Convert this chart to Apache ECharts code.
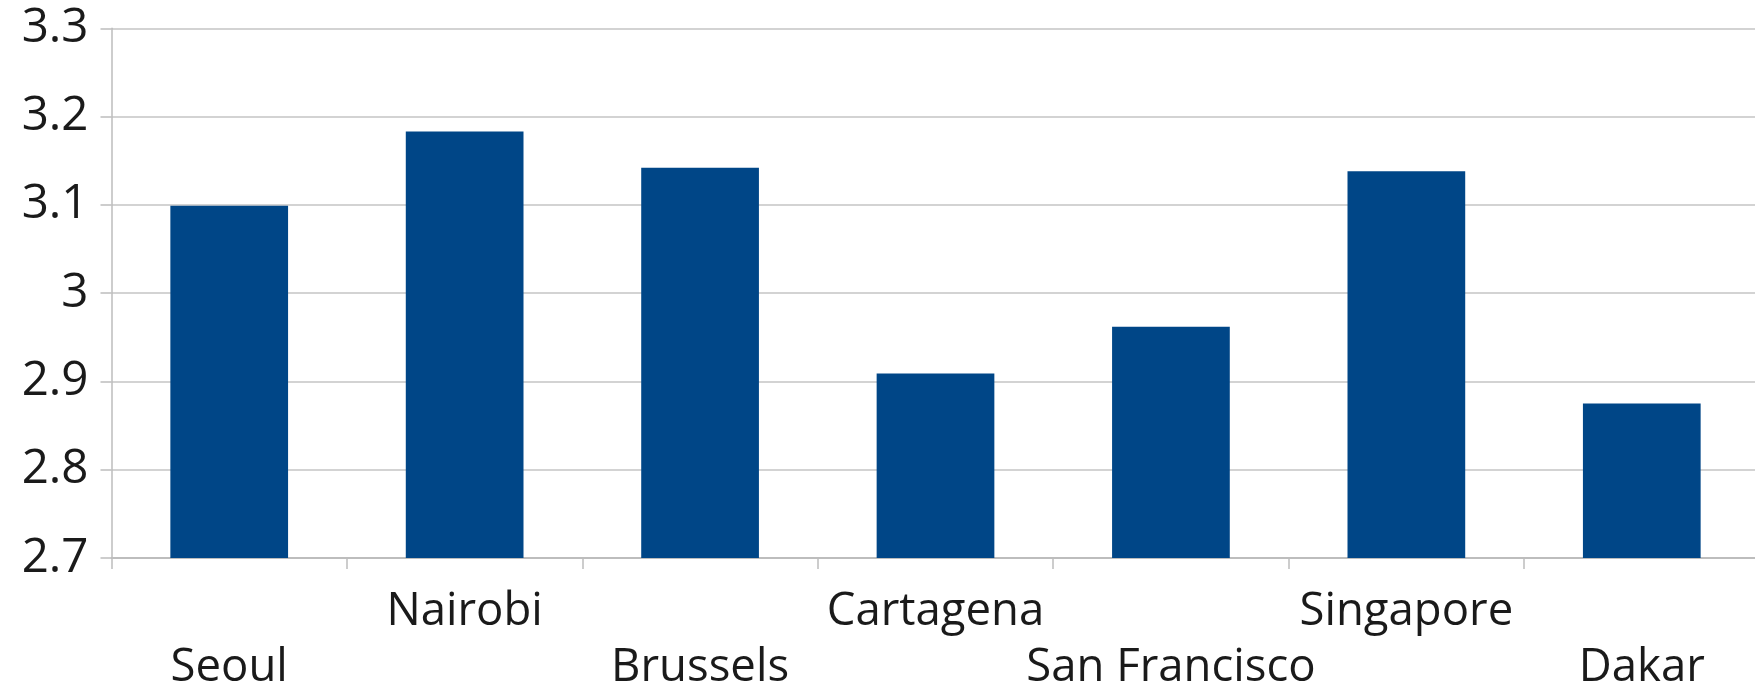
<!DOCTYPE html>
<html>
<head>
<meta charset="utf-8">
<script src="https://cdn.jsdelivr.net/npm/echarts@6/dist/echarts.min.js"></script>
<style>
html,body{margin:0;padding:0;background:#fff;overflow:hidden;}
#chart{width:1755px;height:690px;}
</style>
</head>
<body>
<div id="chart"></div>
<script>
const categories = ["Seoul", "Nairobi", "Brussels", "Cartagena", "San Francisco", "Singapore", "Dakar"];
const values = [3.099, 3.183, 3.142, 2.909, 2.962, 3.138, 2.875];
const yMin = 2.7, yMax = 3.3, yStep = 0.1;

const chart = echarts.init(document.getElementById('chart'), null, {renderer: 'canvas'});
chart.setOption({
  animation: false,
  backgroundColor: '#ffffff',
  grid: {left: 111.5, top: 28.3, width: 1648, height: 529.7, containLabel: false, outerBoundsMode: 'none'},
  xAxis: {
    type: 'category',
    data: categories,
    boundaryGap: true,
    axisLine: {show: true, lineStyle: {color: '#BDBDBD', width: 2}},
    axisTick: {show: true, length: 11, lineStyle: {color: '#BDBDBD', width: 1.5}},
    axisLabel: {
      interval: 0,
      margin: 25.5,
      fontFamily: 'Open Sans',
      fontSize: 45.5,
      color: '#1a1a1a',
      lineHeight: 56.5,
      formatter: function (v, i) { return i % 2 === 0 ? '\n' + v : v; }
    },
    splitLine: {show: false}
  },
  yAxis: {
    type: 'value',
    min: yMin, max: yMax, interval: yStep,
    axisLine: {show: true, lineStyle: {color: '#BDBDBD', width: 1.5}},
    axisTick: {show: true, length: 11, lineStyle: {color: '#BDBDBD', width: 1.5}},
    axisLabel: {
      margin: 23,
      fontFamily: 'Open Sans',
      fontSize: 47.5,
      color: '#1a1a1a'
    },
    splitLine: {show: true, lineStyle: {color: '#C4C4C4', width: 1.5}}
  },
  series: [{
    type: 'bar',
    data: values,
    barWidth: '50%',
    itemStyle: {color: '#004687'}
  }]
});
</script>
</body>
</html>
